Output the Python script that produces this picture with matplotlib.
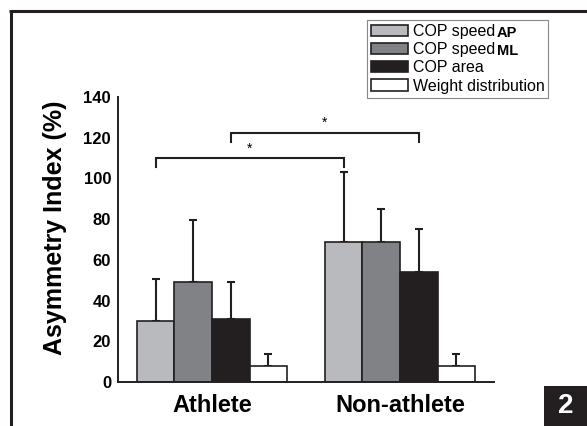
"""Asymmetry index bar chart, athlete vs non-athlete (figure 2)."""
import numpy as np
import matplotlib
matplotlib.use("Agg")
import matplotlib.pyplot as plt
from matplotlib.lines import Line2D
from matplotlib.patches import Patch, Rectangle

plt.rcParams["font.family"] = ["Liberation Sans", "DejaVu Sans"]

groups = ["Athlete", "Non-athlete"]
measures = ["COP speed", "COP speed", "COP area", "Weight distribution"]
suffixes = ["AP", "ML", "", ""]
means_athlete = [30, 49, 31, 8]
sd_athlete = [20.5, 30.5, 18, 6]
means_nonathlete = [69, 69, 54, 8]
sd_nonathlete = [34, 16, 21, 6]
yticks = [0, 20, 40, 60, 80, 100, 120, 140]

COLS = ["#b9babd", "#808285", "#231f20", "#ffffff"]
EDGE = "#231f20"

fig = plt.figure(figsize=(5.87, 4.26), dpi=100)
ax = fig.add_axes([118 / 587, 44 / 426, 376 / 587, 285 / 426])

centers = np.array([0.0, 5.0])
offs = np.array([-1.5, -0.5, 0.5, 1.5])
means = np.array([means_athlete, means_nonathlete])
sds = np.array([sd_athlete, sd_nonathlete])
for k in range(len(measures)):
    x = centers + offs[k]
    ax.bar(x, means[:, k], width=1.0, color=COLS[k], edgecolor=EDGE, linewidth=1.2,
           yerr=[np.zeros(2), sds[:, k]], zorder=2,
           error_kw=dict(ecolor=EDGE, elinewidth=1.5, capsize=3, capthick=1.5, zorder=1))

# significance brackets (COP speed AP and COP area between groups)
def bracket(i, y, drop):
    x0, x1 = centers[0] + offs[i], centers[1] + offs[i]
    ax.plot([x0, x0, x1, x1], [y - drop, y, y, y - drop], color=EDGE, lw=1.5,
            solid_joinstyle="miter", clip_on=False)
    ax.text((x0 + x1) / 2, y + 1.2, "*", ha="center", va="bottom", fontsize=10)

bracket(0, 110, 4.5)
bracket(2, 122.5, 4.5)

ax.set_xlim(-2.5, 7.5)
ax.set_ylim(0, 140)
ax.set_yticks(yticks)
ax.set_yticklabels([str(t) for t in yticks], fontsize=12, fontweight="bold")
ax.set_xticks(centers)
ax.set_xticklabels(groups, fontsize=17, fontweight="bold")
ax.tick_params(axis="both", length=0)
ax.tick_params(axis="y", pad=5)
ax.tick_params(axis="x", pad=9)
for s in ("top", "right"):
    ax.spines[s].set_visible(False)
for s in ("left", "bottom"):
    ax.spines[s].set_linewidth(1.4)
    ax.spines[s].set_color(EDGE)
ax.set_ylabel("Asymmetry Index (%)", fontsize=18, fontweight="bold")
ax.yaxis.set_label_coords(-0.135, 0.54)

handles = [Patch(facecolor=c, edgecolor=EDGE, linewidth=1.2) for c in COLS]
leg = ax.legend(handles, measures, loc="upper left", bbox_to_anchor=(367 / 587, 1 - 20 / 426),
                bbox_transform=fig.transFigure, borderaxespad=0, fancybox=False,
                edgecolor="#888888", framealpha=1, fontsize=11.5, handlelength=2.3,
                handleheight=0.7, labelspacing=0.2, handletextpad=0.3, borderpad=0.25)
leg.get_frame().set_linewidth(0.8)

# bold AP / ML suffixes next to the legend labels, slightly lowered
fig.canvas.draw()
inv = fig.transFigure.inverted()
for t, suf in zip(leg.get_texts(), suffixes):
    if not suf:
        continue
    bb = t.get_window_extent()
    x, y = inv.transform((bb.x1 + 2, bb.y0 - 1))
    fig.text(x, y, suf, fontsize=10.5, fontweight="bold", ha="left", va="bottom")

# panel frame and figure number
fig.add_artist(Line2D([10.5 / 587, 10.5 / 587], [0, 1 - 11 / 426], color=EDGE, lw=2.2,
                      transform=fig.transFigure, solid_capstyle="butt"))
fig.add_artist(Line2D([9 / 587, 1], [1 - 11 / 426, 1 - 11 / 426], color=EDGE, lw=2.2,
                      transform=fig.transFigure, solid_capstyle="butt"))
fig.add_artist(Rectangle((544 / 587, 0), 43 / 587, 40 / 426, transform=fig.transFigure,
                         facecolor=EDGE, edgecolor="none"))
fig.text(565.5 / 587, 20 / 426, "2", color="white", fontsize=20, fontweight="bold",
         ha="center", va="center")

fig.savefig("out.png", dpi=100)
